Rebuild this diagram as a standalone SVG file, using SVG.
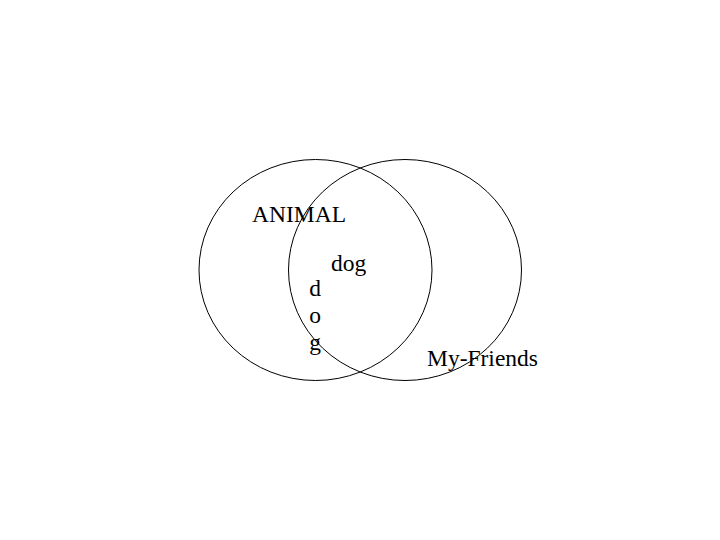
<svg xmlns="http://www.w3.org/2000/svg" width="720" height="540" viewBox="0 0 720 540">
<style>
.set{fill:none;stroke:#000;stroke-width:1}
text{font-family:"Liberation Serif","Times New Roman",serif;font-size:23.5px;fill:#000}
</style>
<rect width="720" height="540" fill="#fff"/>
<g id="animal">
<ellipse class="set" cx="315.5" cy="270" rx="116.5" ry="110.5"/>
<text x="252" y="222">ANIMAL</text>
</g>
<g id="my-friends">
<ellipse class="set" cx="405" cy="270" rx="116.5" ry="110.5"/>
<text x="427" y="366">My-Friends</text>
</g>
<g id="dog-h">
<text x="331" y="271">dog</text>
</g>
<g id="dog-v">
<text x="315" y="296" text-anchor="middle">d</text>
<text x="315" y="323" text-anchor="middle">o</text>
<text x="315" y="350" text-anchor="middle">g</text>
</g>
<g id="connectors"></g>
</svg>
